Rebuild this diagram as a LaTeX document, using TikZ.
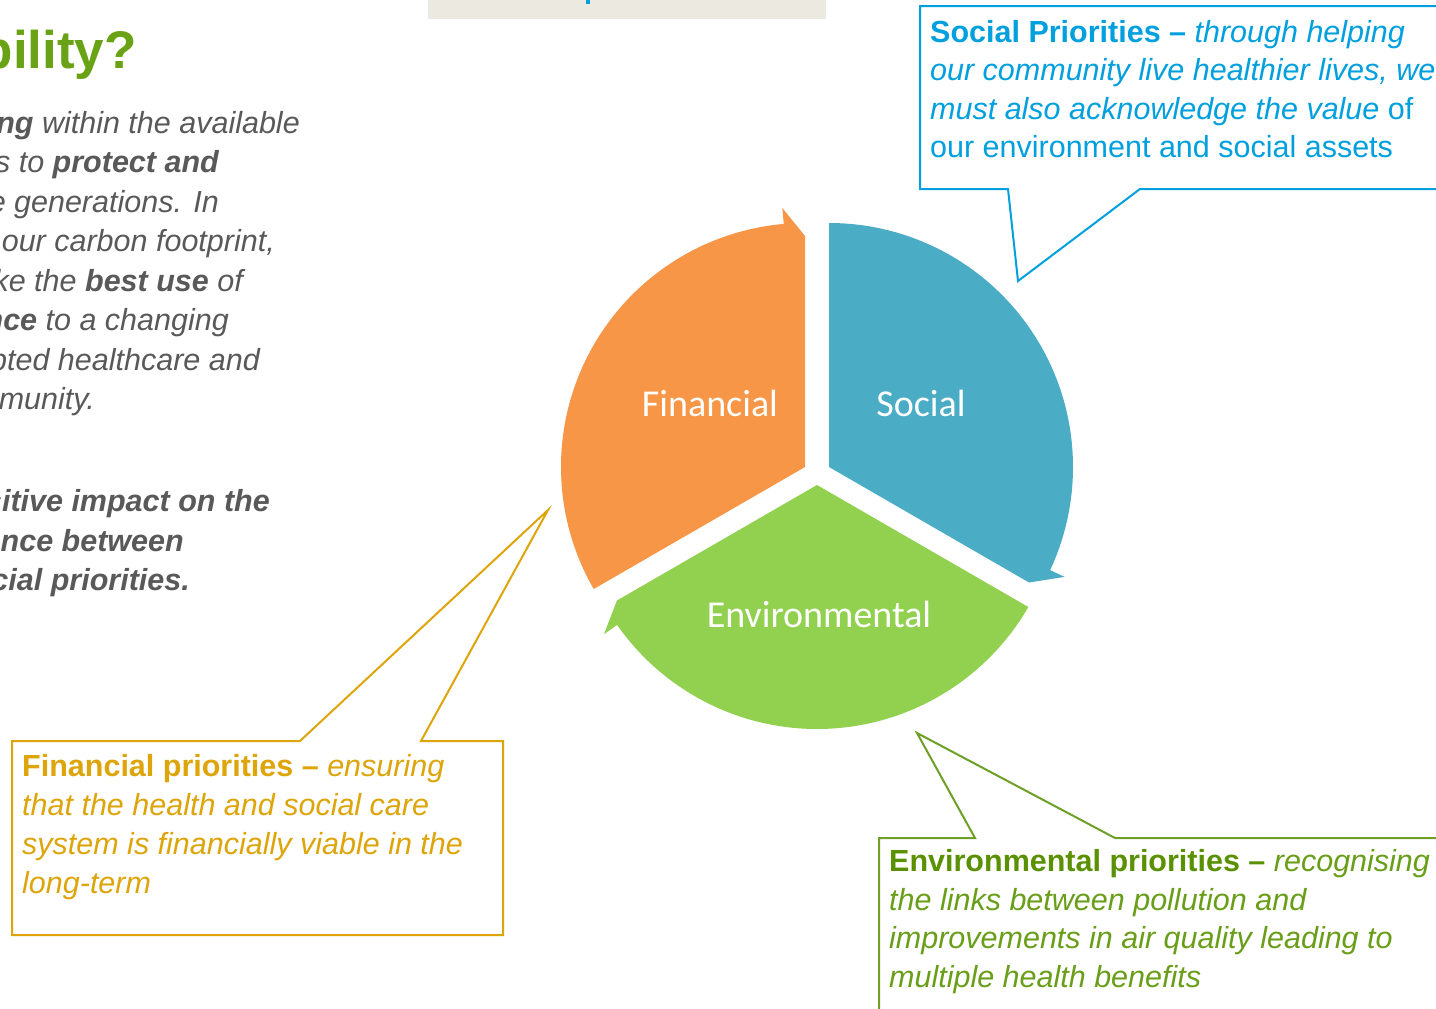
\documentclass[tikz,border=0pt]{standalone}
\usepackage{fontspec}
\setmainfont{Liberation Sans}
\newfontfamily\calibri{Carlito}
\definecolor{segOrange}{RGB}{247,150,70}
\definecolor{segBlue}{RGB}{75,172,198}
\definecolor{segGreen}{RGB}{146,208,80}
\definecolor{headGreen}{RGB}{106,162,22}
\definecolor{bodyGray}{RGB}{89,89,89}
\definecolor{socBlue}{RGB}{0,160,222}
\definecolor{finGold}{RGB}{222,165,10}
\definecolor{envDark}{RGB}{90,145,0}
\definecolor{envText}{RGB}{105,158,25}
\definecolor{envLine}{RGB}{110,160,40}
\definecolor{topBox}{RGB}{236,234,224}
\tikzset{
  segtext/.style={text=white, font=\calibri\fontsize{38}{44}\selectfont, inner sep=0pt},
  lefttext/.style={text=bodyGray, font=\fontsize{30.5}{39}\selectfont\itshape, anchor=base east, inner sep=0pt},
  calltext/.style={font=\fontsize{30.5}{38.5}\selectfont, anchor=base west, inner sep=0pt},
  callbox/.style={line width=2pt, line join=miter, fill=white},
}
\begin{document}
\begin{tikzpicture}[x=1pt,y=-1pt]
\useasboundingbox (0,0) rectangle (1436,1009);
\clip (0,0) rectangle (1436,1009);
\fill[white] (0,0) rectangle (1436,1009);

% top centre box
\fill[topBox] (428,-5) rectangle (826,19);
\fill[socBlue] (586,-2) rectangle (590,4);

% heading
\node[text=headGreen, font=\fontsize{53}{60}\selectfont\bfseries, anchor=base east, inner sep=0pt] (head) at (137,68) {bility?};

% left paragraph
\node[lefttext] (p1) at (300,133.3) {{\bfseries ng} within the available};
\node[lefttext] (p2) at (219,172.8) {s to {\bfseries protect and}};
\node[lefttext] (p3) at (219,212.3) {e generations. In};
\node[lefttext] (p4) at (275,251.8) {our carbon footprint,};
\node[lefttext] (p5) at (243,291.3) {ke the {\bfseries best use} of};
\node[lefttext] (p6) at (229,330.8) {{\bfseries nce} to a changing};
\node[lefttext] (p7) at (260,370.3) {pted healthcare and};
\node[lefttext] (p8) at (95,409.8) {munity.};
\node[lefttext, font=\fontsize{30.5}{39}\selectfont\bfseries\itshape] (p9) at (270,511.5) {sitive impact on the};
\node[lefttext, font=\fontsize{30.5}{39}\selectfont\bfseries\itshape] (p10) at (184,551) {nce between};
\node[lefttext, font=\fontsize{30.5}{39}\selectfont\bfseries\itshape] (p11) at (190,590.5) {cial priorities.};

% segmented cycle
\fill[segOrange, shift={(805,467)}] (0,0) -- (210:244pt)
  arc[start angle=210, end angle=95, radius=244pt] -- (95:260pt) -- (90:231pt) -- cycle;
\fill[segBlue, shift={(829,467)}] (0,0) -- (90:244pt)
  arc[start angle=90, end angle=-25, radius=244pt] -- (-25:260pt) -- (-30:231pt) -- cycle;
\fill[segGreen, shift={(817,485)}] (0,0) -- (-30:244pt)
  arc[start angle=-30, end angle=-145, radius=244pt] -- (-145:260pt) -- (-150:231pt) -- cycle;
\node[segtext] (fin) at (710,403) {Financial};
\node[segtext] (soc) at (921,403) {Social};
\node[segtext] (env) at (819,614) {Environmental};

% social callout
\draw[callbox, draw=socBlue] (920,6) -- (1450,6) -- (1450,189) -- (1140,189) -- (1018,281) -- (1008,189) -- (920,189) -- cycle;
\node[calltext, text=socBlue] (s1) at (930,42) {{\bfseries Social Priorities –} {\itshape through helping}};
\node[calltext, text=socBlue] (s2) at (930,80.5) {\itshape our community live healthier lives, we};
\node[calltext, text=socBlue] (s3) at (930,119) {{\itshape must also acknowledge the value} of};
\node[calltext, text=socBlue] (s4) at (930,157.5) {our environment and social assets};

% financial callout
\draw[callbox, draw=finGold] (12,741) -- (300,741) -- (548,510) -- (421,741) -- (503,741) -- (503,935) -- (12,935) -- cycle;
\node[calltext, text=finGold] (f1) at (22,776) {{\bfseries Financial priorities –} {\itshape ensuring}};
\node[calltext, text=finGold] (f2) at (22,815) {\itshape that the health and social care};
\node[calltext, text=finGold] (f3) at (22,854) {\itshape system is financially viable in the};
\node[calltext, text=finGold] (f4) at (22,893) {\itshape long-term};

% environmental callout
\draw[callbox, draw=envLine] (879,838) -- (975,838) -- (917,733) -- (1115,838) -- (1450,838) -- (1450,1020) -- (879,1020) -- cycle;
\node[calltext, text=envText] (e1) at (889,871.7) {{\bfseries\color{envDark}Environmental priorities –} {\itshape recognising}};
\node[calltext, text=envText] (e2) at (889,910) {\itshape the links between pollution and};
\node[calltext, text=envText] (e3) at (889,948.5) {\itshape improvements in air quality leading to};
\node[calltext, text=envText] (e4) at (889,987) {\itshape multiple health benefits};
\end{tikzpicture}
\end{document}
